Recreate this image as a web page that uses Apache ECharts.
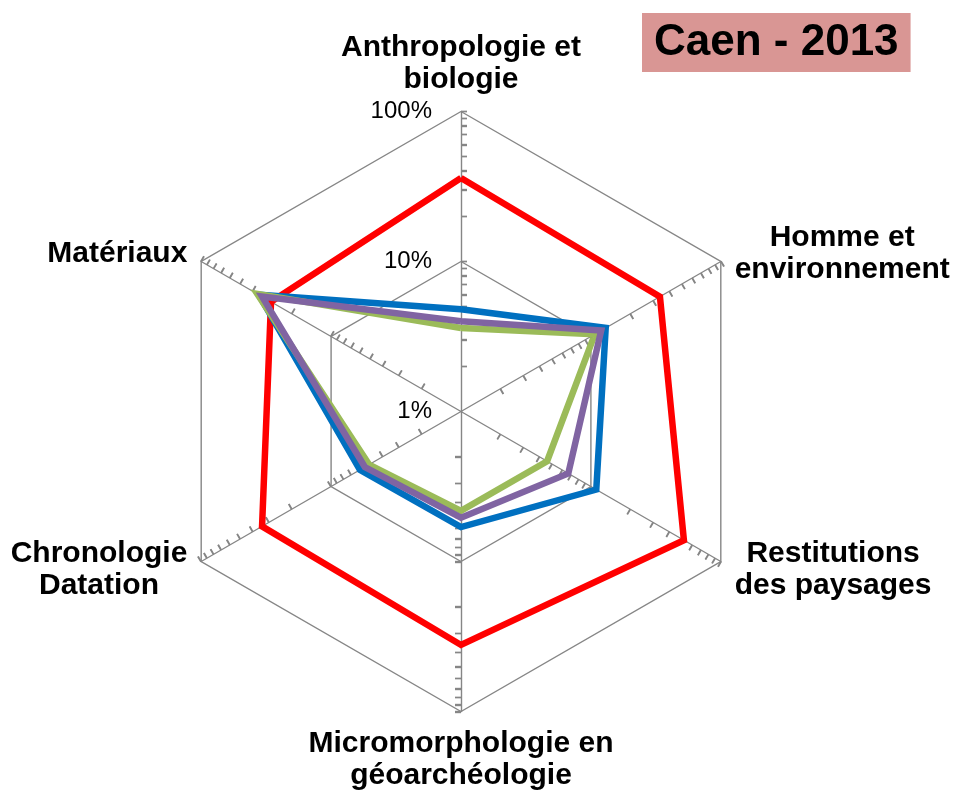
<!DOCTYPE html>
<html>
<head>
<meta charset="utf-8">
<script src="https://cdn.jsdelivr.net/npm/echarts@6/dist/echarts.min.js"></script>
<style>
  html, body { margin: 0; padding: 0; background: #fff; }
  #caen { width: 963px; height: 804px; }
</style>
</head>
<body>
<div id="caen"></div>
<script>
// categories, counter-clockwise from the top (ECharts draws radar axes that way)
const categories = [
    'Anthropologie et\nbiologie',
    'Matériaux',
    'Chronologie\nDatation',
    'Micromorphologie en\ngéoarchéologie',
    'Restitutions\ndes paysages',
    'Homme et\nenvironnement',
];
// values in %, same order as categories
const serieRouge = [36, 29, 34, 36, 52, 34];
const serieBleue = [4.8, 36, 6.0, 5.9, 11, 13];
const serieVerte = [3.6, 37, 5.1, 4.6, 4.6, 10.7];
const serieViolette = [4.0, 34, 5.5, 5.1, 6.7, 12];
// log axis: 1% at the centre, 100% at the edge
const tickLabels = ['1%', '10%', '100%'];
const minorTicks = [2, 3, 4, 5, 6, 7, 8, 9, 10, 20, 30, 40, 50, 60, 70, 80, 90, 100];

!(function (window) {
    const { echarts } = window;
    const chart = echarts.init(document.getElementById('caen'));

    const FONT = 'Arial, "Liberation Sans", sans-serif';
    const CENTER = [461, 411.5];
    const RADIUS = 300;
    const GRID = '#868686';
    const log = v => Math.log10(v);

    const mainRadar = {
        center: CENTER,
        radius: RADIUS,
        startAngle: 90,
        shape: 'polygon',
        splitNumber: 2,
        nameGap: 16,
        axisName: {
            color: '#000',
            formatter: text => text.split('\n').map(l => `{c|${l}}`).join('\n'),
            rich: {
                c: {
                    align: 'center',
                    fontFamily: FONT,
                    fontSize: 30,
                    fontWeight: 'bold',
                    lineHeight: 32,
                    color: '#000',
                },
            },
        },
        axisLine: { lineStyle: { color: GRID, width: 1.4 } },
        splitLine: { lineStyle: { color: GRID, width: 1.4 } },
        splitArea: { show: false },
        axisTick: { show: false },
        axisLabel: { show: false },
        indicator: categories.map((name, i) => {
            const ind = { name, min: 0, max: 2 };
            if (i === 0) {
                ind.axisLabel = {
                    show: true,
                    margin: 29,
                    fontFamily: FONT,
                    fontSize: 24,
                    color: '#000',
                    formatter: v => tickLabels[Math.round(v)],
                };
            }
            return ind;
        }),
    };

    // one extra (invisible) radar per log tick, only its axis ticks are drawn
    // (negative length puts the ticks on the clockwise side, as in the original)
    const tickRadars = minorTicks.map(t => {
        const r = RADIUS * log(t) / 2;
        return {
            center: CENTER,
            radius: [r, r + 0.5],
            startAngle: 90,
            shape: 'polygon',
            splitNumber: 1,
            axisName: { show: false },
            axisLine: { show: false },
            splitLine: { show: false },
            splitArea: { show: false },
            axisLabel: { show: false },
            axisTick: { show: true, length: -6, lineStyle: { color: GRID, width: 1.4 } },
            indicator: categories.map(() => ({ name: '', min: 0, max: 1 })),
        };
    });

    const mkSerie = (name, values, color) => ({
        name,
        type: 'radar',
        radarIndex: 0,
        symbol: 'none',
        silent: true,
        lineStyle: { color, width: 6.5, join: 'miter' },
        data: [{ value: values.map(log), name }],
    });

    const option = {
        animation: false,
        title: {
            text: 'Caen - 2013',
            left: 642,
            top: 13,
            padding: [7, 12],
            backgroundColor: '#d99694',
            textStyle: {
                fontFamily: FONT,
                fontSize: 44,
                fontWeight: 'bold',
                color: '#000',
                lineHeight: 45,
            },
        },
        radar: [mainRadar].concat(tickRadars),
        series: [
            mkSerie('Série 1', serieRouge, '#ff0000'),
            mkSerie('Série 2', serieBleue, '#0070c0'),
            mkSerie('Série 3', serieVerte, '#9bbb59'),
            mkSerie('Série 4', serieViolette, '#8064a2'),
        ],
    };

    chart.setOption(option);
}(window));
</script>
</body>
</html>
